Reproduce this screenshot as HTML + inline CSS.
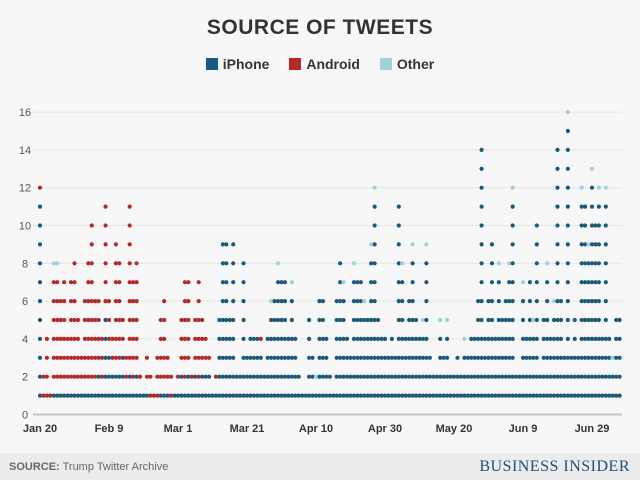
<!DOCTYPE html>
<html><head><meta charset="utf-8"><style>
body{margin:0;width:640px;height:480px;background:#f7f7f7;font-family:"Liberation Sans",sans-serif;overflow:hidden;position:relative}
#title{position:absolute;top:16px;left:0;width:640px;text-align:center;font-weight:bold;font-size:21px;color:#333;letter-spacing:0.5px}
#legend{position:absolute;top:56px;left:0;width:640px;text-align:center;font-size:14px;font-weight:bold;color:#333}
.li{display:inline-block;margin:0 8px}
.sw{display:inline-block;width:12px;height:12px;margin-right:5px;vertical-align:-1px}
#footer{position:absolute;left:0;top:453px;width:640px;height:27px;background:#ececec}
#src{position:absolute;left:9px;top:8px;font-size:11px;color:#666}
#bi{position:absolute;right:10px;top:5px;font-family:"Liberation Serif",serif;font-size:16px;color:#1f4e79;letter-spacing:0.5px}
svg{position:absolute;left:0;top:0}
</style></head><body>
<div id="title">SOURCE OF TWEETS</div>
<div id="legend">
<span class="li"><span class="sw" style="background:#1b5a78"></span>iPhone</span>
<span class="li"><span class="sw" style="background:#b5292b"></span>Android</span>
<span class="li"><span class="sw" style="background:#9fd0e0"></span>Other</span>
</div>
<svg id="chart" width="640" height="480"></svg>
<div id="footer">
<div id="src"><b>SOURCE:</b> Trump Twitter Archive</div>
<div id="bi">BUSINESS INSIDER</div>
</div>
<script>
const totals=[12,2,4,1,8,8,6,7,4,7,8,5,3,6,8,10,6,6,4,11,6,4,9,8,5,3,11,7,8,2,1,3,2,1,3,5,6,3,2,1,2,5,7,7,2,5,7,5,4,3,1,2,5,9,9,5,9,2,2,8,3,4,4,4,4,2,4,6,6,8,7,7,4,7,4,2,1,1,5,3,2,6,6,4,2,1,6,8,7,4,3,8,7,7,6,5,9,12,5,4,4,3,4,3,11,8,4,6,9,5,4,5,9,3,2,2,5,3,5,2,2,3,2,4,3,4,4,6,14,4,6,9,4,8,5,6,8,12,2,2,7,4,7,5,10,2,5,8,4,6,14,6,3,16,3,5,3,12,11,9,13,10,12,4,12,4,3,5,5];
const android=[1,2,4,1,6,6,5,6,3,6,7,4,2,5,7,9,5,4,3,6,3,2,7,6,2,2,9,6,6,1,0,2,2,1,3,4,5,2,2,0,1,3,6,5,1,3,6,3,2,1,0,1,0,0,0,0,0,0,0,0,0,0,0,0,1];
const otherDays=[4,5,67,69,73,80,88,91,94,96,97,105,108,111,112,116,118,123,133,136,137,140,143,147,149,153,157,159,160,162,164,166];
const yTicks=[0,2,4,6,8,10,12,14,16];
const xTickLabels=["Jan 20","Feb 9","Mar 1","Mar 21","Apr 10","Apr 30","May 20","Jun 9","Jun 29"];
const xTickDays=[0,20,40,60,80,100,120,140,160];
const svg=document.getElementById('chart');const NS='http://www.w3.org/2000/svg';
const X=d=>40+3.45*d, Y=v=>414.5-18.9*v;
function mk(t,a){const e=document.createElementNS(NS,t);for(const k in a)e.setAttribute(k,a[k]);svg.appendChild(e);return e;}
yTicks.forEach(v=>{
 const l=mk('line',{x1:33,x2:622,y1:Y(v),y2:Y(v),stroke:v===0?'#c4c4c4':'#e6e6e6','stroke-width':v===0?2:1});
 
 
 const t=mk('text',{x:25,y:Y(v)+4,'text-anchor':'middle','font-size':11,fill:'#555'});t.textContent=v;
 
 
});
xTickLabels.forEach((s,i)=>{
 const t=mk('text',{x:X(xTickDays[i]),y:432,'text-anchor':'middle','font-size':11,'font-weight':'bold',fill:'#333'});t.textContent=s;
 
 
});
totals.forEach((n,d)=>{
 const a=android[d]||0, o=otherDays.includes(d)?1:0;
 for(let v=1;v<=n;v++){
  let c='#1b5a78';
  if(v>n-o)c='#9fd0e0';else if(v>n-o-a)c='#b5292b';
  const dot=mk('circle',{cx:X(d),cy:Y(v),r:2.1,fill:c});
  
  
 }
});
</script>
</body></html>
